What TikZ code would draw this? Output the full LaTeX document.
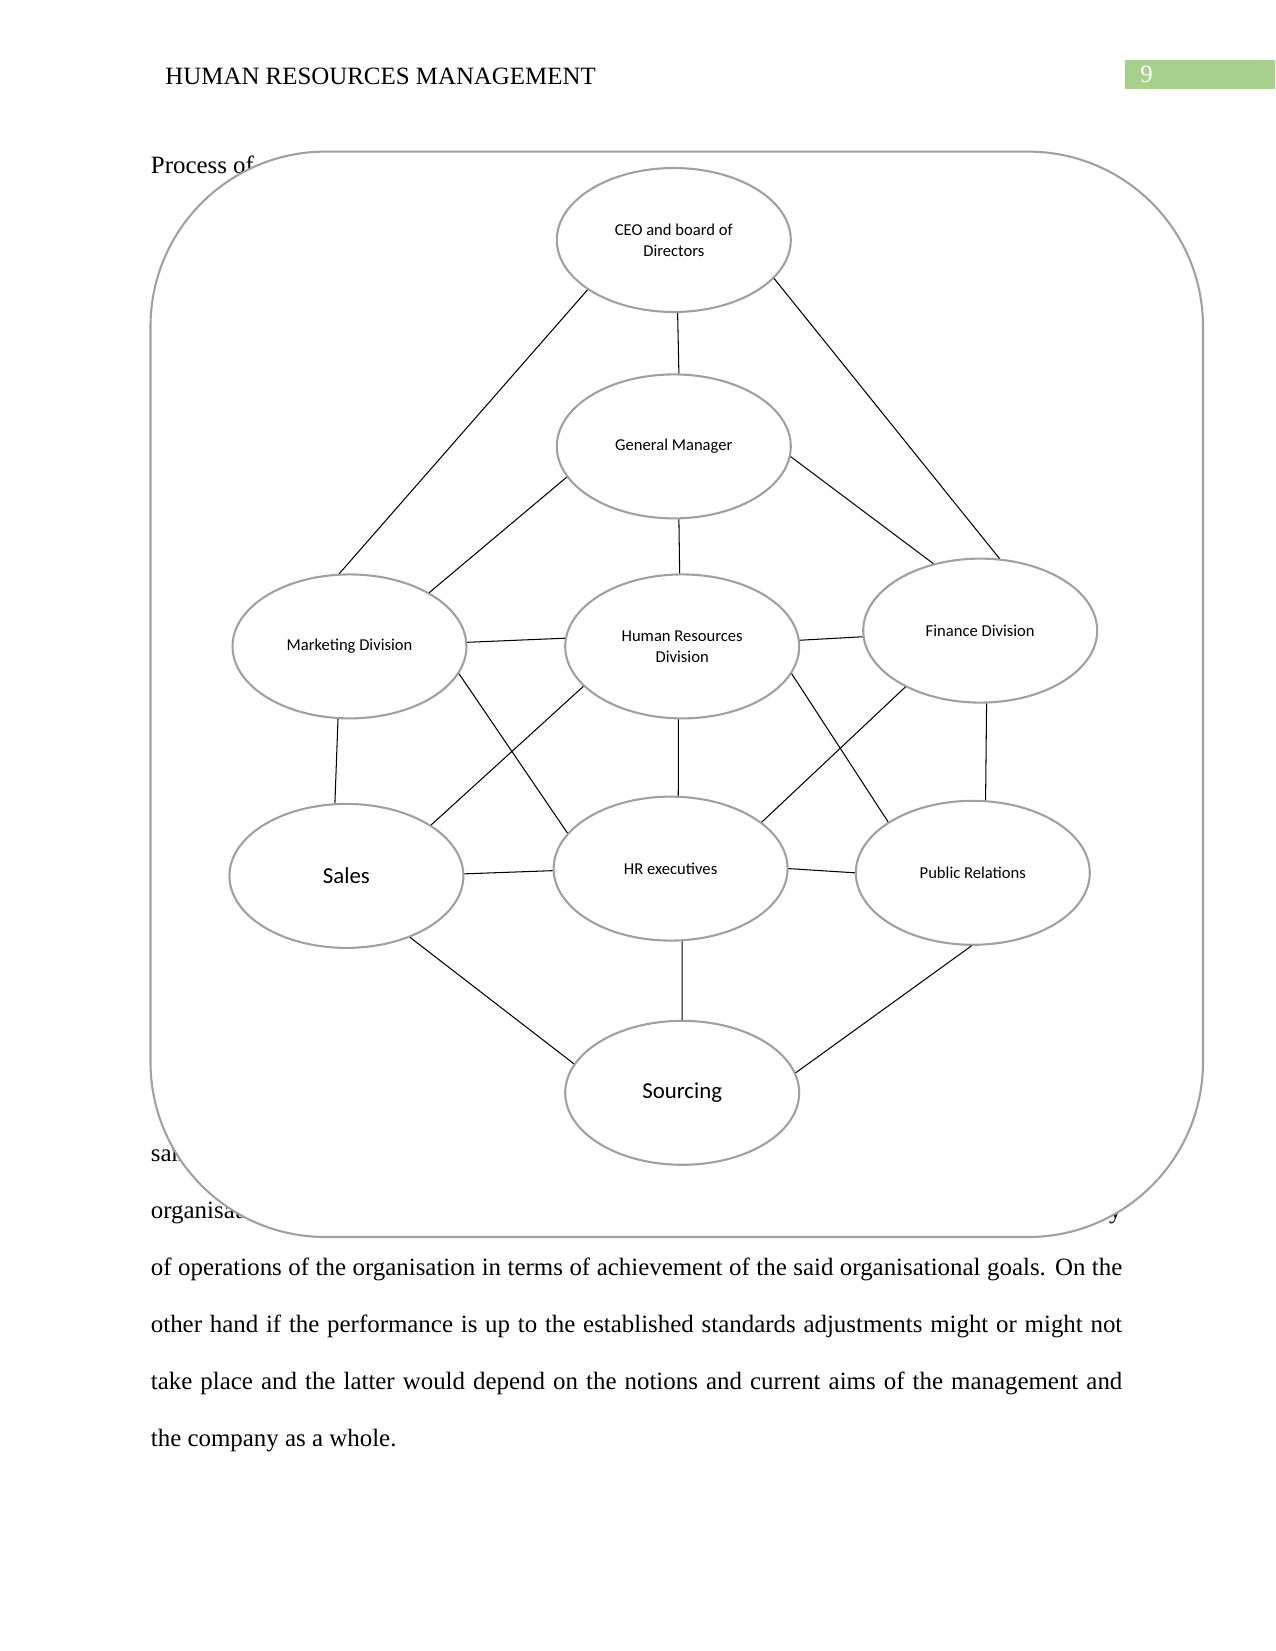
\documentclass[tikz,border=0pt]{standalone}
\usepackage{fontspec}
\setmainfont{Liberation Serif}
\newfontfamily\diagfont{Carlito}
\usetikzlibrary{shapes.geometric}

\definecolor{edgegray}{RGB}{160,160,160}
\definecolor{pagegreen}{RGB}{168,208,141}

\begin{document}
\begin{tikzpicture}[
    x=0.48bp, y=-0.48bp,
    unitbox/.style={ellipse, draw=edgegray, line width=1bp, fill=white, align=center,
        inner sep=0pt, minimum width=112.3bp, minimum height=69.1bp,
        font=\diagfont\fontsize{8}{10}\selectfont},
    bigtext/.style={font=\diagfont\fontsize{11}{13}\selectfont},
    link/.style={draw=black, line width=0.5bp},
    bodytext/.style={anchor=base west, inner sep=0pt, font=\fontsize{12}{14}\selectfont}
]
\useasboundingbox (0,0) rectangle (1275,1651);

% running head
\node[bodytext] (head) at (165,84) {HUMAN RESOURCES MANAGEMENT};
\fill[pagegreen] (1125,60) rectangle (1275,89);
\node[bodytext, text=white] (pagenum) at (1140,82) {9};

% text behind the chart
\node[bodytext] (proc) at (150.5,173) {Process of};
\node[bodytext] (lineA) at (150.5,1161) {same};
\node[bodytext] (lineB) at (150.5,1218) {organisation};
\node[bodytext, anchor=base east] (lineC) at (1122,1218) {y};

% chart frame
\draw[draw=edgegray, line width=1bp, fill=white, rounded corners=84bp]
    (150.5,151.6) rectangle (1203,1237);

% units
\node[unitbox] (ceo) at (673.8,240) {CEO and board of\\Directors};
\node[unitbox] (gm) at (673.8,446.4) {General Manager};
\node[unitbox] (mkt) at (349.5,646.4) {Marketing Division};
\node[unitbox] (hrd) at (682.2,646.4) {Human Resources\\Division};
\node[unitbox] (fin) at (980.2,630.6) {Finance Division};
\node[unitbox, bigtext] (sales) at (346.4,875.9) {Sales};
\node[unitbox] (hrx) at (670.6,868.6) {HR executives};
\node[unitbox] (pr) at (972.8,872.8) {Public Relations};
\node[unitbox, bigtext] (src) at (682.2,1092.8) {Sourcing};

% links
\draw[link] (ceo.-150.5) -- (mkt.98.5);
\draw[link] (ceo.-87) -- (gm.86);
\draw[link] (ceo.-21.5) -- (fin.75.2);
\draw[link] (gm.196) -- (mkt.34);
\draw[link] (gm.-86) -- (hrd.92.5);
\draw[link] (gm.-5.7) -- (fin.125.5);
\draw[link] (mkt.2.6) -- (hrd.176.4);
\draw[link] (hrd.3.6) -- (fin.-177.4);
\draw[link] (mkt.-99.3) -- (sales.99.2);
\draw[link] (mkt.-14.6) -- (hrx.161.2);
\draw[link] (hrd.-158.9) -- (sales.31.4);
\draw[link] (hrd.-93.3) -- (hrx.84.1);
\draw[link] (hrd.-14.2) -- (pr.149.7);
\draw[link] (fin.-143) -- (hrx.27.4);
\draw[link] (fin.-85.5) -- (pr.80.9);
\draw[link] (sales.1.6) -- (hrx.-179);
\draw[link] (hrx.0) -- (pr.180);
\draw[link] (sales.-44.5) -- (src.165.8);
\draw[link] (hrx.-81.9) -- (src.90.8);
\draw[link] (pr.-91.7) -- (src.10);

% text below the chart
\node[bodytext] (body1) at (150.5,1275) {\makebox[468pt][s]{of operations of the organisation in terms of achievement of the said organisational goals. On the}};
\node[bodytext] (body2) at (150.5,1332) {\makebox[468pt][s]{other hand if the performance is up to the established standards adjustments might or might not}};
\node[bodytext] (body3) at (150.5,1389) {\makebox[468pt][s]{take place and the latter would depend on the notions and current aims of the management and}};
\node[bodytext] (body4) at (150.5,1446) {the company as a whole.};

\end{tikzpicture}
\end{document}
